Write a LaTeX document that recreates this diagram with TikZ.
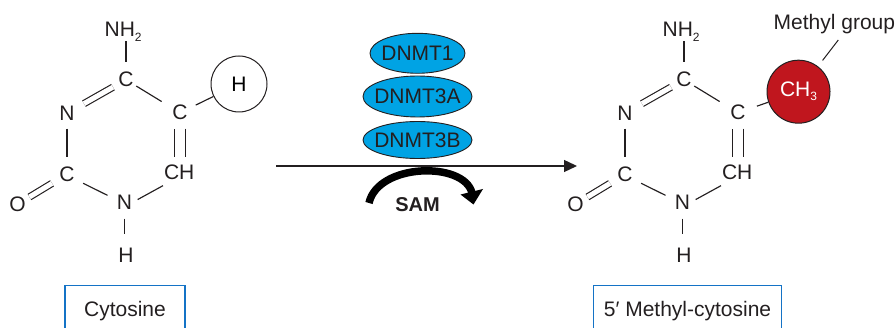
\documentclass[tikz,border=0pt]{standalone}
\usepackage{fontspec}
\setmainfont{Liberation Sans}
\usetikzlibrary{calc,shapes.geometric,arrows.meta}
\definecolor{dnmtblue}{RGB}{0,163,228}
\definecolor{methred}{RGB}{192,22,30}
\definecolor{boxblue}{RGB}{20,115,198}
\definecolor{inkc}{RGB}{35,31,32}
\newcommand\atomfont{\fontsize{21}{25}\selectfont}
\newcommand\subsfont{\fontsize{12}{12}\selectfont}
\tikzset{
  atom/.style={inner sep=0pt, anchor=base, font=\atomfont, text=inkc},
  bond/.style={line width=1.15pt, draw=inkc},
  dbond/.style={line width=1.15pt, draw=inkc, double=white, double distance=#1},
  enzyme/.style={ellipse, draw=inkc, line width=0.9pt, fill=dnmtblue, inner sep=0pt, font=\atomfont, text=inkc},
  namebox/.style={draw=boxblue, line width=1.3pt, inner sep=3pt, font=\atomfont, text=inkc, anchor=north, minimum height=50pt},
  ringcircle/.style={circle, draw=inkc, line width=1pt, inner sep=0pt, font=\atomfont},
}
\newcommand\cytring[1]{%
  \node[atom, anchor=base west] (#1nh2) at (104.4,36.3) {NH\raisebox{-5pt}[0pt][0pt]{\subsfont 2}};
  \node[atom] (#1c4) at (126,87) {C};
  \node[atom] (#1n3) at (67,120.5) {N};
  \node[atom] (#1c5) at (180,120) {C};
  \node[atom] (#1c6) at (179.2,180) {CH};
  \node[atom] (#1c2) at (67,181.5) {C};
  \node[atom] (#1n1) at (124.5,210) {N};
  \node[atom] (#1o) at (17.5,211.5) {O};
  \node[atom] (#1h1) at (126,263) {H};
  \draw[bond, shorten <=12.3pt, shorten >=17.4pt] (#1c4.center |- #1nh2.center) -- (#1c4.center);
  \draw[dbond=5pt, shorten <=19.5pt, shorten >=15pt] (#1n3.center) -- (#1c4.center);
  \draw[bond, shorten <=12pt, shorten >=21.5pt] (#1c4.center) -- (#1c5.center);
  \draw[dbond=9.9pt, shorten <=15.9pt, shorten >=15.7pt] (#1c5.center) -- (#1c5.center |- #1c6.center);
  \draw[bond, shorten <=18.5pt, shorten >=15pt] ([yshift=-4pt]#1c6.center) -- ([yshift=-4pt]#1n1.center);
  \draw[bond, shorten <=18pt, shorten >=19pt] ([yshift=-1pt]#1c2.center) -- ([yshift=-1pt]#1n1.center);
  \draw[bond, shorten <=15.4pt, shorten >=17.2pt] (#1n3.center) -- (#1c2.center);
  \draw[dbond=5pt, shorten <=14pt, shorten >=17.5pt] (#1o.center) -- (#1c2.center);
  \draw[bond, shorten <=15.9pt, shorten >=22.1pt] (#1n1.center) -- (#1n1.center |- #1h1.center);
}
\begin{document}
\begin{tikzpicture}[x=1pt,y=-1pt]
\useasboundingbox (0,0) rectangle (896,328);
% left molecule: cytosine
\cytring{L}
\node[ringcircle, minimum size=56pt] (hc) at (239,84) {H};
\draw[bond, shorten <=17.5pt] (Lc5.center) -- (hc);
\node[namebox, minimum width=120pt] (cyto) at (125,285) {Cytosine};
% right molecule: 5' methyl-cytosine
\begin{scope}[xshift=558pt]
\cytring{R}
\end{scope}
\node[ringcircle, fill=methred, text=white, minimum size=63pt, text height=15.2pt, text depth=4.6pt] (ch3) at (798.5,91.7) {CH\raisebox{-3.5pt}[0pt][0pt]{\subsfont 3}};
\draw[bond, shorten <=20pt] (Rc5.center) -- (ch3);
\node[atom, anchor=base west] (mglabel) at (773.5,30) {Methyl group};
\coordinate (mgtail) at (838.3,40);
\draw[line width=1pt, draw=inkc, shorten >=7.5pt] (mgtail) -- (ch3);
\node[namebox, minimum width=188.4pt] (mcyto) at (687.5,285) {5′ Methyl-cytosine};
% enzymes
\node[enzyme, minimum width=95pt, minimum height=40pt] (dnmt1) at (417.5,53.3) {\makebox[0pt]{DNMT1}};
\node[enzyme, minimum width=109pt, minimum height=41pt] (dnmt3a) at (417.5,96.5) {\makebox[0pt]{DNMT3A}};
\node[enzyme, minimum width=109pt, minimum height=37pt] (dnmt3b) at (417.5,140) {\makebox[0pt]{DNMT3B}};
% reaction arrow
\coordinate (arrS) at (276,166);
\coordinate (arrE) at (577,166);
\draw[line width=1.3pt, draw=inkc, -{Triangle[length=13pt,width=12pt]}] (arrS) -- (arrE);
% SAM curved arrow
\coordinate (samS) at (369,203);
\coordinate (samE) at (472,193);
\draw[line width=7.5pt, draw=black] (samS) .. controls (378,163) and (464.2,161) .. (samE);
\fill[black] (460.5,194.5) -- (483,189) -- (473.5,204.5) -- cycle;
\node[inner sep=0pt, anchor=base, font=\bfseries\fontsize{20}{24}\selectfont, text=inkc] (sam) at (417.5,211.7) {SAM};
\end{tikzpicture}
\end{document}
